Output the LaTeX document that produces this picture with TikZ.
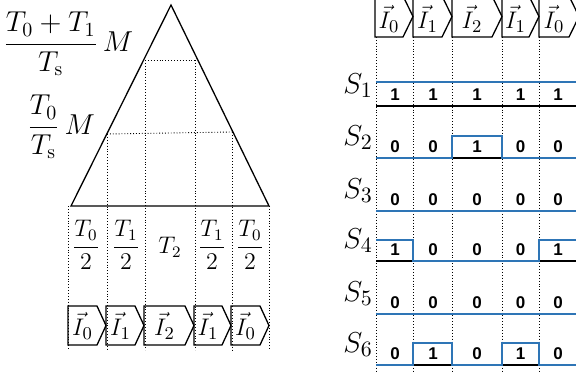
\documentclass[tikz,border=0pt]{standalone}
\usepackage{fontspec}
\newfontfamily\digitfont{Liberation Sans}
\usepackage{amsmath}
\usetikzlibrary{calc}
\definecolor{PulseBlue}{RGB}{46,117,182}

\begin{document}
\begin{tikzpicture}[x=0.5pt, y=-0.5pt,
      sideline/.style={line width=0.65pt},
      guide/.style={densely dotted, line width=0.45pt},
      wave/.style={draw=PulseBlue, line width=1pt},
      lowline/.style={line width=0.65pt},
      bit/.style={font=\digitfont\bfseries\fontsize{8.5}{10}\selectfont, inner sep=0pt},
      swname/.style={font=\fontsize{15}{17}\selectfont, inner sep=0pt, anchor=base west},
      vecbig/.style={font=\fontsize{13}{15}\selectfont, inner sep=0pt},
      vecsmall/.style={font=\fontsize{12.5}{14}\selectfont, inner sep=0pt},
      halfterm/.style={font=\fontsize{12}{14}\selectfont, inner sep=0pt},
      ratio/.style={font=\fontsize{14}{16}\selectfont, inner sep=0pt, anchor=west}
    ]
  \useasboundingbox (0,0) rectangle (576,374);

  % sector triangle
  \coordinate (apex) at (171,5);
  \coordinate (bl) at (71,206);
  \coordinate (br) at (269,206);
  \coordinate (bottom) at (0,350);
  \draw[sideline] (bl) -- (apex) -- (br) -- cycle;
  \coordinate (p1) at (145,60);
  \coordinate (p2) at (195,60);
  \coordinate (q1) at (107,134);
  \coordinate (q2) at (232,132);
  \draw[guide] (p1) -- (p2);
  \draw[guide] (q1) -- (q2);
  \foreach \c in {p1,p2,q1,q2}
    \draw[guide] (\c) -- (\c |- bottom);
  \draw[guide] (68,206) -- (68,350);
  \draw[guide] (269,206) -- (269,350);

  \node[ratio] (m01) at (3,44) {$\dfrac{T_0+T_1}{T_{\mathrm{s}}}\,M$};
  \node[ratio] (m0) at (27,127) {$\dfrac{T_0}{T_{\mathrm{s}}}\,M$};

  % dwell times
  \node[halfterm] (t1) at (86,245) {$\dfrac{T_0}{2}$};
  \node[halfterm] (t2) at (126,245) {$\dfrac{T_1}{2}$};
  \node[halfterm] (t3) at (170,247) {$T_2$};
  \node[halfterm] (t4) at (212,245) {$\dfrac{T_1}{2}$};
  \node[halfterm] (t5) at (250,245) {$\dfrac{T_0}{2}$};

  % vector sequence, left
  \foreach \xa/\xb/\k [count=\i] in {68/106/0, 106/144/1, 144/194/2, 194/231/1, 231/269/0} {
    \draw[sideline] (\xa,306) -- (\xb-9,306) -- (\xb,325.5) -- (\xb-9,345) -- (\xa,345) -- cycle;
    \node[vecbig] (lv\i) at ({(\xa+\xb-9)/2},326) {$\vec{I}_{\k}$};
  }

  % vector sequence, right
  \foreach \xa/\xb/\k [count=\i] in {375/413/0, 413/452/1, 452/502/2, 502/539/1, 539/579/0} {
    \draw[sideline] (\xa,-4) -- (\xb-10,-4) -- (\xb,16.5) -- (\xb-10,37) -- (\xa,37) -- cycle;
    \node[vecsmall] (rv\i) at ({(\xa+\xb-10)/2},19) {$\vec{I}_{\k}$};
  }
  \foreach \x in {376,413,452,502,539}
    \draw[guide] (\x,37) -- (\x,372);

  % switch states
  \draw[lowline] (376,106) -- (576,106);
  \draw[wave] (376,82) -- (576,82);
  \draw[lowline] (452,158) -- (502,158);
  \draw[wave] (376,158) -- (452,158) -- (452,136) -- (502,136) -- (502,158) -- (576,158);
  \draw[wave] (376,211) -- (576,211);
  \draw[lowline] (376,261) -- (413,261) (539,261) -- (576,261);
  \draw[wave] (376,240) -- (413,240) -- (413,261) -- (539,261) -- (539,240) -- (576,240);
  \draw[wave] (376,314) -- (576,314);
  \draw[lowline] (413,365) -- (452,365) (502,365) -- (539,365);
  \draw[wave] (376,365) -- (413,365) -- (413,343) -- (452,343) -- (452,365)
    -- (502,365) -- (502,343) -- (539,343) -- (539,365) -- (576,365);

  \coordinate (c1) at (395,0);
  \coordinate (c2) at (433,0);
  \coordinate (c3) at (477,0);
  \coordinate (c4) at (520.5,0);
  \coordinate (c5) at (558,0);
  \foreach \r/\y/\bits in {1/106/{1,1,1,1,1}, 2/158/{0,0,1,0,0}, 3/211/{0,0,0,0,0},
                           4/261/{1,0,0,0,1}, 5/314/{0,0,0,0,0}, 6/365/{0,1,0,1,0}} {
    \node[swname] (s\r) at (343,\y-13) {$S_{\r}$};
    \foreach \b [count=\j] in \bits
      \node[bit] (v\r\j) at ($(c\j)+(0,\y-11)$) {\b};
  }
\end{tikzpicture}
\end{document}
